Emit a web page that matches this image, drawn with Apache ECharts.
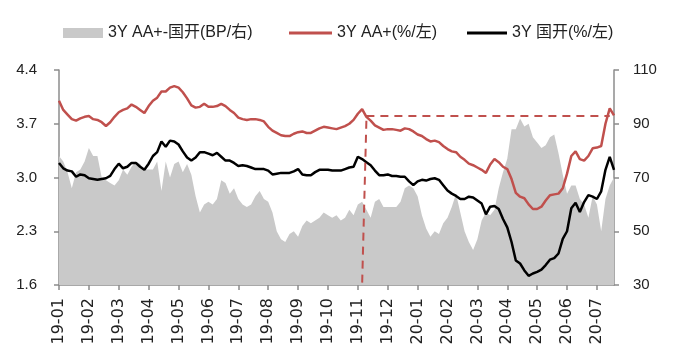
<!DOCTYPE html>
<html>
<head>
<meta charset="utf-8">
<script src="https://cdn.jsdelivr.net/npm/echarts@6/dist/echarts.min.js"></script>
<style>
html,body{margin:0;padding:0;background:#fff;}
#main{width:679px;height:355px;}
</style>
</head>
<body>
<div id="main"></div>
<script>
// Tick labels shown on the x axis (one every 7 sample points)
const tickLabels = ['19-01','19-02','19-03','19-04','19-05','19-06','19-07','19-08','19-09','19-10','19-11','19-12','20-01','20-02','20-03','20-04','20-05','20-06','20-07'];
const pointsPerTick = 7;

// 3Y AA+ yield (%, left axis)
const aaPlus = [4.00,3.88,3.82,3.76,3.74,3.77,3.79,3.80,3.76,3.75,3.72,3.67,3.72,3.79,3.85,3.88,3.90,3.95,3.92,3.88,3.84,3.93,4.00,4.04,4.12,4.12,4.17,4.19,4.17,4.11,4.03,3.94,3.91,3.92,3.96,3.92,3.92,3.93,3.96,3.93,3.88,3.84,3.78,3.76,3.75,3.76,3.76,3.75,3.73,3.66,3.61,3.58,3.55,3.54,3.54,3.57,3.59,3.60,3.58,3.58,3.61,3.64,3.66,3.65,3.64,3.63,3.65,3.67,3.70,3.75,3.83,3.89,3.79,3.74,3.68,3.65,3.62,3.63,3.63,3.62,3.61,3.64,3.63,3.60,3.56,3.54,3.50,3.47,3.48,3.46,3.41,3.37,3.34,3.33,3.27,3.23,3.18,3.16,3.13,3.10,3.06,3.17,3.24,3.20,3.14,3.11,2.98,2.80,2.75,2.73,2.65,2.59,2.59,2.62,2.70,2.77,2.78,2.79,2.86,3.05,3.28,3.34,3.24,3.22,3.28,3.38,3.39,3.41,3.70,3.90,3.81];

// 3Y CDB (国开) yield (%, left axis)
const cdb = [3.19,3.12,3.09,3.08,3.01,3.04,3.03,2.99,2.98,2.97,2.98,2.99,3.02,3.11,3.18,3.12,3.14,3.19,3.19,3.14,3.10,3.18,3.28,3.33,3.47,3.40,3.48,3.47,3.43,3.34,3.26,3.22,3.26,3.33,3.33,3.31,3.29,3.32,3.27,3.22,3.22,3.19,3.15,3.16,3.15,3.13,3.11,3.11,3.11,3.09,3.04,3.05,3.06,3.06,3.06,3.08,3.11,3.04,3.03,3.03,3.07,3.10,3.10,3.10,3.09,3.09,3.09,3.11,3.13,3.14,3.27,3.24,3.20,3.16,3.09,3.03,3.03,3.04,3.02,3.02,3.01,3.01,2.95,2.90,2.95,2.97,2.96,2.98,2.99,2.97,2.90,2.83,2.79,2.76,2.72,2.72,2.75,2.74,2.70,2.66,2.52,2.62,2.63,2.59,2.46,2.35,2.16,1.92,1.88,1.79,1.72,1.75,1.77,1.80,1.86,1.93,1.95,2.01,2.20,2.30,2.60,2.67,2.55,2.68,2.77,2.75,2.72,2.82,3.10,3.27,3.10];

// 3Y AA+ minus CDB spread (BP, right axis)
const spread = [78,76,72,66,72,73,76,81,78,78,70,69,68,67,69,73,71,74,76,75,73,73,73,76,65,76,70,75,76,72,75,71,63,57,60,61,60,62,69,68,64,66,62,60,59,60,63,65,62,61,57,50,47,46,49,50,48,52,54,53,54,55,57,56,55,56,54,55,58,56,60,61,58,55,61,62,59,59,59,59,61,66,67,66,63,56,51,48,50,49,53,55,59,64,57,50,46,43,47,54,57,56,58,66,72,77,88,88,92,89,90,85,83,81,82,85,86,79,71,64,67,67,62,60,55,63,60,50,62,67,70];

// Annotation: level of the Nov-2019 AA+ peak and where it is reached
const peakIndex = 71.7;
const peakLevel = 3.81;
const peakLineEnd = 129.3;
const peakFootIndex = 70.7;

const categories = aaPlus.map((_, i) => String(i));

const names = ['3Y AA+-国开(BP/右)', '3Y AA+(%/左)', '3Y 国开(%/左)'];
const red = '#C0504D';
const axisGray = '#8C8C8C';
const fontFam = '"Liberation Sans", Arial, "Noto Sans CJK SC", sans-serif';
const tickFont = '"DejaVu Sans", Verdana, sans-serif';

const chart = echarts.init(document.getElementById('main'), null, {renderer: 'canvas'});
const legendBase = {
  top: 25, itemHeight: 10, padding: 0,
  textStyle: {fontSize: 16, color: '#222', fontFamily: fontFam},
  selectedMode: false
};
chart.setOption({
  animation: false,
  backgroundColor: '#fff',
  textStyle: {fontFamily: fontFam},
  legend: [
    Object.assign({}, legendBase, {left: 63, itemWidth: 40, data: [{name: names[0], icon: 'rect'}]}),
    Object.assign({}, legendBase, {left: 289, itemWidth: 43, itemHeight: 3, data: [{name: names[1], icon: 'rect'}]}),
    Object.assign({}, legendBase, {left: 467, itemWidth: 40, itemHeight: 3, data: [{name: names[2], icon: 'rect'}]})
  ],
  grid: {left: 59, right: 65, top: 70, bottom: 70, containLabel: false},
  xAxis: {
    type: 'category',
    data: categories,
    boundaryGap: false,
    axisLine: {lineStyle: {color: axisGray, width: 1.5}},
    axisTick: {interval: pointsPerTick - 1, length: 5, lineStyle: {color: axisGray, width: 1.5}},
    axisLabel: {
      interval: pointsPerTick - 1,
      rotate: 90,
      fontSize: 16,
      fontFamily: tickFont,
      color: '#222',
      margin: 13,
      formatter: (v, idx) => tickLabels[Math.round(idx / pointsPerTick)] || ''
    },
    splitLine: {show: false}
  },
  yAxis: [
    {
      type: 'value', min: 1.6, max: 4.4, interval: 0.7, position: 'left',
      axisLine: {show: true, lineStyle: {color: axisGray, width: 1.5}},
      axisTick: {show: true, length: 5, lineStyle: {color: axisGray, width: 1.5}},
      axisLabel: {fontSize: 15, color: '#222', margin: 22, formatter: v => v.toFixed(1)},
      splitLine: {show: false}
    },
    {
      type: 'value', min: 30, max: 110, interval: 20, position: 'right',
      axisLine: {show: true, lineStyle: {color: axisGray, width: 1.5}},
      axisTick: {show: true, length: 5, lineStyle: {color: axisGray, width: 1.5}},
      axisLabel: {fontSize: 15, color: '#222', margin: 19},
      splitLine: {show: false}
    }
  ],
  series: [
    {
      name: names[0], type: 'line', yAxisIndex: 1, data: spread,
      symbol: 'none', lineStyle: {width: 0, color: '#C9C9C9'},
      itemStyle: {color: '#C9C9C9'},
      areaStyle: {color: '#C9C9C9', opacity: 1, origin: 'start'},
      z: 1
    },
    {
      name: names[1], type: 'line', yAxisIndex: 0, data: aaPlus,
      symbol: 'none', lineStyle: {width: 2.5, color: red}, itemStyle: {color: red},
      z: 3,
      markLine: {
        silent: true, symbol: 'none', label: {show: false},
        lineStyle: {color: red, type: [8, 6], width: 2},
        data: [
          [{coord: [peakIndex, peakLevel]}, {coord: [peakLineEnd, peakLevel]}],
          [{coord: [peakIndex, peakLevel - 0.07]}, {coord: [peakFootIndex, 1.6]}]
        ]
      }
    },
    {
      name: names[2], type: 'line', yAxisIndex: 0, data: cdb,
      symbol: 'none', lineStyle: {width: 2.5, color: '#000'}, itemStyle: {color: '#000'},
      z: 4
    }
  ]
});
</script>
</body>
</html>
